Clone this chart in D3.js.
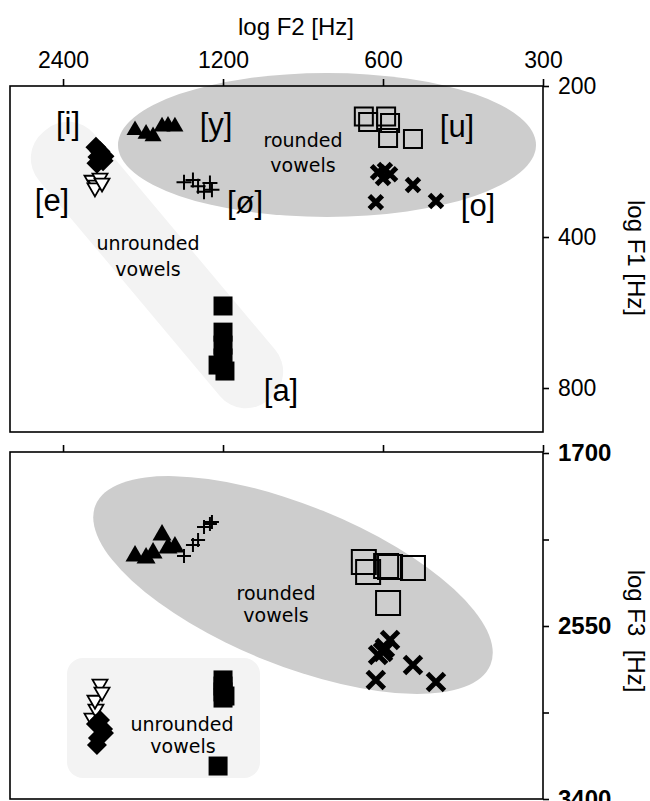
<!DOCTYPE html>
<html>
<head>
<meta charset="utf-8">
<script src="https://cdn.jsdelivr.net/npm/d3@7"></script>
<style>
  html, body { margin: 0; padding: 0; background: #fff; }
  svg { display: block; }
</style>
</head>
<body>
<svg id="chart" width="650" height="801"></svg>
<script>
// ---------------- DATA (Hz) ----------------
const f2Ticks = [2400, 1200, 600, 300];
const f1Ticks = [200, 400, 800];
const f3Ticks = [1700, 2125, 2550, 2975, 3400];
const f3Labels = [1700, 2550, 3400];

// [i] filled diamonds
const iF2 = [2081, 2045, 2010, 2063, 2018, 2072];
const iF1 = [265, 270, 276, 277, 282, 285];
const iF3 = [3031, 3012, 3076, 3100, 3056, 3135];
// [e] open inverted triangles
const eF2 = [2117, 2081, 2045, 2090, 2027];
const eF1 = [308, 315, 305, 319, 312];
const eF3 = [3002, 2958, 2835, 2914, 2874];
// [y] filled triangles
const yF2 = [1757, 1675, 1625, 1563, 1523, 1478];
const yF1 = [245, 249, 252, 241, 240, 241];
const yF3 = [2206, 2216, 2191, 2103, 2167, 2162];
// [ø] plus signs
const oeF2 = [1421, 1367, 1337, 1303, 1270, 1259];
const oeF1 = [311, 308, 317, 325, 312, 322];
const oeF3 = [2206, 2152, 2127, 2064, 2049, 2039];
// [u] open squares
const uF2 = [652, 640, 592, 582, 587, 527];
const uF1 = [230, 236, 230, 237, 254, 255];
const uF3 = [2236, 2285, 2255, 2260, 2437, 2265];
// [o] bold crosses
const oF2 = [613, 595, 582, 600, 527, 619, 477];
const oF1 = [297, 294, 300, 305, 315, 341, 339];
const oF3 = [2692, 2658, 2619, 2678, 2742, 2815, 2825];
// [a] filled squares
const aF2 = [1200, 1200, 1200, 1200, 1226, 1190];
const aF1 = [549, 619, 657, 697, 720, 740];
const aF3 = [2815, 2845, 2874, 2904, 3238, 2894];

// ---------------- LAYOUT ----------------
const L = 10, R = 543;
const topT = 86, topB = 432;
const botT = 452, botB = 799;

const svg = d3.select("#chart");
const x = d3.scaleLog().domain([3020, 300]).range([L, R]);
const y1 = d3.scaleLog().domain([200, 979]).range([topT, topB]);
const y3 = d3.scaleLinear().domain([1700, 3400]).range([453, botB]);

const AX_FONT = "'Liberation Sans', Arial, sans-serif";
const REG_FONT = "'DejaVu Sans', sans-serif";

// ---------------- regions ----------------
// top panel
svg.append("rect")
  .attr("x", -175).attr("y", -36).attr("width", 350).attr("height", 72)
  .attr("rx", 34).attr("ry", 34)
  .attr("transform", "translate(157,265) rotate(50)")
  .attr("fill", "#f3f3f3");
svg.append("ellipse")
  .attr("cx", 327).attr("cy", 145).attr("rx", 209).attr("ry", 72)
  .attr("fill", "#cdcdcd");
// bottom panel
svg.append("rect")
  .attr("x", 67).attr("y", 658).attr("width", 193).attr("height", 120)
  .attr("rx", 16).attr("ry", 16)
  .attr("fill", "#f3f3f3");
svg.append("ellipse")
  .attr("cx", 0).attr("cy", 0).attr("rx", 213).attr("ry", 80)
  .attr("transform", "translate(293,585) rotate(22)")
  .attr("fill", "#cdcdcd");

// ---------------- boxes ----------------
[[topT, topB], [botT, botB]].forEach(([t, b]) => {
  svg.append("rect")
    .attr("x", L).attr("y", t).attr("width", R - L).attr("height", b - t)
    .attr("fill", "none").attr("stroke", "#000").attr("stroke-width", 1.6);
});

// ---------------- axes ----------------
function styleAxis(g, size) {
  g.select(".domain").remove();
  g.selectAll(".tick line").attr("stroke", "#000").attr("stroke-width", 1.6);
  g.selectAll(".tick text").attr("fill", "#000")
    .style("font-family", AX_FONT).style("font-size", size + "px");
}
const fmt = d3.format("d");

svg.append("g").attr("transform", `translate(0,${topT})`)
  .call(d3.axisTop(x).tickValues(f2Ticks).tickSize(7).tickPadding(11).tickFormat(fmt))
  .call(g => styleAxis(g, 23));
svg.append("g").attr("transform", `translate(${R},0)`)
  .call(d3.axisRight(y1).tickValues(f1Ticks).tickSize(6).tickPadding(9).tickFormat(fmt))
  .call(g => styleAxis(g, 23));

svg.append("g").attr("transform", `translate(0,${botT})`)
  .call(d3.axisTop(x).tickValues(f2Ticks).tickSize(7).tickFormat(""))
  .call(g => styleAxis(g, 23));
svg.append("g").attr("transform", `translate(${R},0)`)
  .call(d3.axisRight(y3).tickValues(f3Ticks).tickSize(6).tickPadding(9)
    .tickFormat(d => f3Labels.includes(d) ? fmt(d) : ""))
  .call(g => styleAxis(g, 24))
  .call(g => g.selectAll(".tick text").style("font-weight", "bold"));

// axis titles
svg.append("text").attr("x", 296).attr("y", 35).attr("text-anchor", "middle")
  .style("font-family", AX_FONT).style("font-size", "24px").text("log F2 [Hz]");
svg.append("text").attr("transform", "translate(628,258) rotate(90)").attr("text-anchor", "middle")
  .style("font-family", AX_FONT).style("font-size", "24px").text("log F1 [Hz]");
svg.append("text").attr("transform", "translate(628,631) rotate(90)").attr("text-anchor", "middle")
  .style("font-family", AX_FONT).style("font-size", "24px").style("white-space", "pre")
  .text("log F3  [Hz]");

// ---------------- markers ----------------
const SQ3 = Math.sqrt(3);
const shapes = {
  tri: s => { const h = s * SQ3 / 2; return `M0,${-2*h/3}L${s/2},${h/3}L${-s/2},${h/3}Z`; },
  nabla: s => { const h = s * SQ3 / 2; return `M0,${2*h/3}L${s/2},${-h/3}L${-s/2},${-h/3}Z`; },
  diamond: s => { const d = s / 2; return `M0,${-d}L${d},0L0,${d}L${-d},0Z`; },
  square: s => { const d = s / 2; return `M${-d},${-d}H${d}V${d}H${-d}Z`; },
  plus: s => { const d = s / 2; return `M${-d},0H${d}M0,${-d}V${d}`; },
  cross: s => { const d = s / 2; return `M${-d},${-d}L${d},${d}M${d},${-d}L${-d},${d}`; }
};
const styles = {
  tri:     { fill: "#000", stroke: "none", sw: 0 },
  nabla:   { fill: "#fff", stroke: "#000", sw: 1.8 },
  diamond: { fill: "#000", stroke: "none", sw: 0 },
  fsq:     { fill: "#000", stroke: "none", sw: 0 },
  osq:     { fill: "none", stroke: "#000", sw: 2 },
  plus:    { fill: "none", stroke: "#000", sw: 2 },
  cross:   { fill: "none", stroke: "#000", sw: 5 }
};
function drawSeries(xs, ys, yScale, shape, style, size) {
  const st = styles[style];
  svg.append("g").selectAll("path")
    .data(d3.zip(xs, ys))
    .join("path")
    .attr("transform", d => `translate(${x(d[0])},${yScale(d[1])})`)
    .attr("d", shapes[shape](size))
    .attr("fill", st.fill)
    .attr("stroke", st.stroke)
    .attr("stroke-width", st.sw);
}

// top panel: F2 vs F1
drawSeries(yF2, yF1, y1, "tri", "tri", 17);
drawSeries(iF2, iF1, y1, "diamond", "diamond", 21);
drawSeries(eF2, eF1, y1, "nabla", "nabla", 15);
drawSeries(oeF2, oeF1, y1, "plus", "plus", 15);
drawSeries(uF2, uF1, y1, "square", "osq", 18);
drawSeries(oF2, oF1, y1, "cross", "cross", 13);
drawSeries(aF2, aF1, y1, "square", "fsq", 19);

// bottom panel: F2 vs F3
drawSeries(yF2, yF3, y3, "tri", "tri", 19);
drawSeries(eF2, eF3, y3, "nabla", "nabla", 15);
drawSeries(iF2, iF3, y3, "diamond", "diamond", 20);
drawSeries(oeF2, oeF3, y3, "plus", "plus", 14);
drawSeries(uF2, uF3, y3, "square", "osq", 24);
drawSeries(oF2, oF3, y3, "cross", "cross", 17);
drawSeries(aF2, aF3, y3, "square", "fsq", 19);

// ---------------- labels ----------------
const vowelLabels = [
  { t: "[i]", x: 68,  y: 134 },
  { t: "[y]", x: 216, y: 135 },
  { t: "[e]", x: 52,  y: 211 },
  { t: "[ø]", x: 245, y: 213 },
  { t: "[a]", x: 281, y: 401 },
  { t: "[u]", x: 457, y: 137 },
  { t: "[o]", x: 478, y: 216 }
];
svg.append("g").selectAll("text").data(vowelLabels).join("text")
  .attr("x", d => d.x).attr("y", d => d.y).attr("text-anchor", "middle")
  .style("font-family", AX_FONT).style("font-size", "31px").text(d => d.t);

const regionLabels = [
  { t: "rounded", x: 303, y: 147 }, { t: "vowels", x: 303, y: 172 },
  { t: "unrounded", x: 148, y: 250 }, { t: "vowels", x: 148, y: 276 },
  { t: "rounded", x: 276, y: 600 }, { t: "vowels", x: 276, y: 622 },
  { t: "unrounded", x: 182, y: 731 }, { t: "vowels", x: 183, y: 753 }
];
svg.append("g").selectAll("text").data(regionLabels).join("text")
  .attr("x", d => d.x).attr("y", d => d.y).attr("text-anchor", "middle")
  .style("font-family", REG_FONT).style("font-size", "19px").text(d => d.t);
</script>
</body>
</html>
